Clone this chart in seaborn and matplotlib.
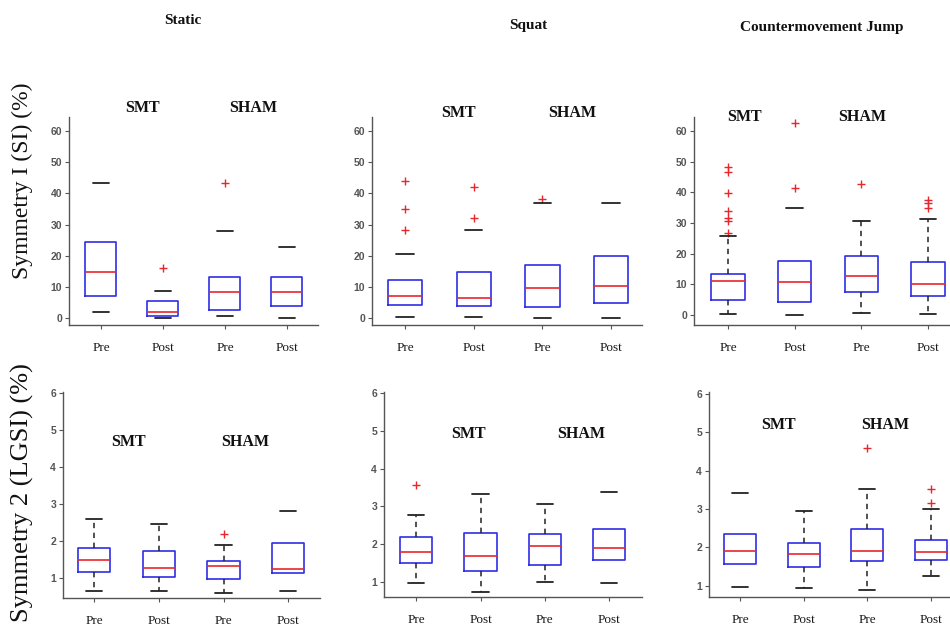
import numpy as np
import pandas as pd
import matplotlib
matplotlib.use("Agg")
import matplotlib.pyplot as plt
import seaborn as sns

sns.set_theme(style="white")
plt.rcParams['font.family'] = ['Liberation Sans', 'DejaVu Sans']

conditions = ['Pre', 'Post', 'Pre', 'Post']
groups = ['SMT', 'SHAM']
columns = ['Static', 'Squat', 'Countermovement Jump']
row_labels = ['Symmetry I (SI) (%)', 'Symmetry 2 (LGSI) (%)']

# box summaries per condition: whisker low, q1, median, q3, whisker high
si_static = [[1.8, 7.2, 14.6, 24.3, 43.4], [0.0, 0.5, 1.8, 5.5, 8.8],
             [0.7, 2.7, 8.5, 13.1, 28.0], [0.0, 3.7, 8.2, 13.3, 22.9]]
si_static_out = [[], [16.2], [43.4], []]

si_squat = [[0.3, 4.3, 7.2, 12.1, 20.6], [0.3, 3.9, 6.4, 14.7, 28.3],
            [0.0, 3.5, 9.6, 16.9, 36.8], [0.0, 4.8, 10.4, 20.0, 36.8]]
si_squat_out = [[28.3, 35.0, 44.0], [32.0, 41.9], [38.1], []]

si_cmj = [[0.3, 4.9, 11.1, 13.4, 25.9], [0.0, 4.3, 10.7, 17.7, 35.0],
          [0.8, 7.6, 12.8, 19.3, 30.7], [0.3, 6.3, 10.1, 17.4, 31.2]]
si_cmj_out = [[26.6, 30.8, 31.8, 34.0, 39.9, 46.7, 48.4], [41.3, 62.5], [42.9], [34.8, 36.4, 37.5]]

lgsi_static = [[0.66, 1.15, 1.48, 1.81, 2.59], [0.66, 1.03, 1.27, 1.74, 2.47],
               [0.59, 0.98, 1.33, 1.45, 1.90], [0.64, 1.14, 1.24, 1.96, 2.80]]
lgsi_static_out = [[], [], [2.20], []]

lgsi_squat = [[0.97, 1.49, 1.80, 2.19, 2.77], [0.73, 1.29, 1.69, 2.30, 3.33],
              [1.00, 1.46, 1.96, 2.27, 3.06], [0.96, 1.58, 1.91, 2.40, 3.37]]
lgsi_squat_out = [[3.57], [], [], []]

lgsi_cmj = [[0.96, 1.58, 1.91, 2.35, 3.43], [0.95, 1.50, 1.82, 2.12, 2.96],
            [0.89, 1.65, 1.91, 2.48, 3.52], [1.26, 1.67, 1.87, 2.19, 2.99]]
lgsi_cmj_out = [[], [], [4.58], [3.17, 3.52]]

# which dashed whiskers survive in the original figure
whiskers_shown = [[False] * 4, [False] * 4, [True, False, True, True],
                  [True, True, True, False], [True, True, True, False], [False, True, True, True]]

BLUE = '#2f2fe6'
RED = '#e8262b'
W, H = 950, 628


def px(x, y):
    return x / W, 1 - y / H


# panel layout in pixels: left, top, right, bottom ; xlim ; ylim ; text positions
panels = [
    (si_static, si_static_out, (69, 117, 318, 325), (0.484, 4.5), (-2.25, 64.5), np.arange(0, 61, 10),
     [(142, 108), (253, 108)]),
    (si_squat, si_squat_out, (372, 117, 642, 325), (0.52, 4.45), (-2.25, 64.5), np.arange(0, 61, 10),
     [(459, 113), (572, 113)]),
    (si_cmj, si_cmj_out, (694, 117, 950, 325), (0.49, 4.33), (-3.26, 64.6), np.arange(0, 61, 10),
     [(744, 117), (862, 117)]),
    (lgsi_static, lgsi_static_out, (63, 392, 320, 598), (0.52, 4.49), (0.46, 6.03), np.arange(1, 7),
     [(128, 442), (245, 442)]),
    (lgsi_squat, lgsi_squat_out, (384, 392, 642, 597), (0.50, 4.51), (0.60, 6.03), np.arange(1, 7),
     [(469, 434), (581, 434)]),
    (lgsi_cmj, lgsi_cmj_out, (709, 392, 950, 597), (0.51, 4.30), (0.71, 6.05), np.arange(1, 7),
     [(778, 425), (885, 425)]),
]

fig = plt.figure(figsize=(9.5, 6.28), dpi=100)

for k, (summary, outliers, box, xlim, ylim, yticks, grp_pos) in enumerate(panels):
    l, t, r, b = box
    ax = fig.add_axes([l / W, 1 - b / H, (r - l) / W, (b - t) / H])
    stats = [dict(whislo=s[0], q1=s[1], med=s[2], q3=s[3], whishi=s[4], fliers=[]) for s in summary]
    art = ax.bxp(stats, positions=[1, 2, 3, 4], widths=0.5, showfliers=False,
                 boxprops=dict(color=BLUE, lw=1.2),
                 medianprops=dict(color=RED, lw=1.2),
                 whiskerprops=dict(color='#222222', lw=1.1, ls=(0, (3.5, 3))),
                 capprops=dict(color='#222222', lw=1.3))
    for i, shown in enumerate(whiskers_shown[k]):
        if not shown:
            art['whiskers'][2 * i].set_visible(False)
            art['whiskers'][2 * i + 1].set_visible(False)

    out_df = pd.DataFrame([(i + 1, v) for i, vals in enumerate(outliers) for v in vals],
                          columns=['pos', 'value'])
    if len(out_df):
        sns.scatterplot(data=out_df, x='pos', y='value', marker='+', color=RED, s=32,
                        linewidth=1.0, ax=ax)

    ax.set_xlim(*xlim)
    ax.set_ylim(*ylim)
    ax.set_xlabel('')
    ax.set_ylabel('')
    ax.set_xticks([1, 2, 3, 4])
    ax.set_xticklabels(conditions, fontfamily='Liberation Serif', fontsize=9.5, color='#1a1a1a')
    ax.set_yticks(yticks)
    ax.set_yticklabels([str(v) for v in yticks], fontsize=7.5, fontweight='bold', color='#555555')
    ax.tick_params(axis='both', bottom=True, left=True, direction='out', length=3, width=0.8,
                   color='#555555')
    ax.tick_params(axis='x', pad=9)
    ax.tick_params(axis='y', pad=2)
    sns.despine(ax=ax)
    for side in ['left', 'bottom']:
        ax.spines[side].set_color('#555555')
        ax.spines[side].set_linewidth(1.0)

    for name, (gx, gy) in zip(groups, grp_pos):
        fig.text(*px(gx, gy), name, ha='center', va='center', fontfamily='Liberation Serif',
                 fontweight='bold', fontsize=11.5, color='#111111')

for title, (tx, ty) in zip(columns, [(183, 20), (528, 26), (822, 27)]):
    fig.text(*px(tx, ty), title, ha='center', va='center', fontfamily='Liberation Serif',
             fontweight='bold', fontsize=11, color='#111111')

fig.text(*px(22, 181), row_labels[0], rotation=90, ha='center', va='center',
         fontfamily='Liberation Serif', fontsize=17, color='#111111')
fig.text(*px(22, 493), row_labels[1], rotation=90, ha='center', va='center',
         fontfamily='Liberation Serif', fontsize=19, color='#111111')

fig.savefig('out.png', dpi=100)
